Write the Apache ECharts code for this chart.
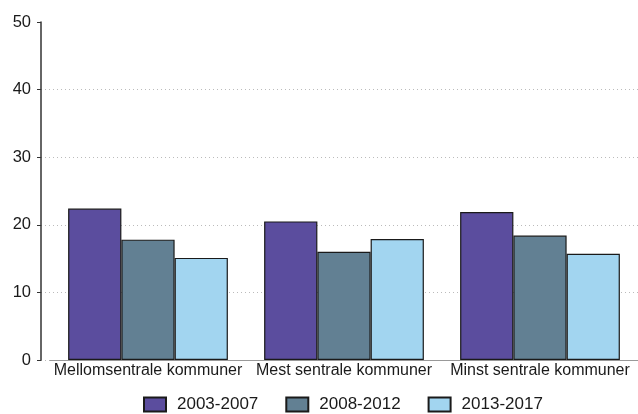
<!DOCTYPE html>
<html>
<head>
<meta charset="utf-8">
<script src="https://cdn.jsdelivr.net/npm/echarts@6/dist/echarts.min.js"></script>
<style>html,body{margin:0;padding:0;background:#fff}#c{width:638px;height:414px}</style>
</head>
<body>
<div id="c"></div>
<script>
var categories = ['Mellomsentrale kommuner', 'Mest sentrale kommuner', 'Minst sentrale kommuner'];
var seriesNames = ['2003-2007', '2008-2012', '2013-2017'];
var s2003 = [22.4, 20.5, 21.9];
var s2008 = [17.8, 16.0, 18.4];
var s2013 = [15.1, 17.9, 15.7];
var yTicks = [0, 10, 20, 30, 40, 50];

var colors = ['#5b4d9e', '#628093', '#a2d5f0'];
var font = "'Liberation Sans', Arial, sans-serif";
var chart = echarts.init(document.getElementById('c'));
var vals = [s2003, s2008, s2013];
var series = seriesNames.map(function (n, i) {
  return {
    name: n, type: 'bar', xAxisIndex: 1, yAxisIndex: 1,
    data: vals[i], barGap: '0%', barCategoryGap: '18.5%',
    itemStyle: { color: colors[i], borderColor: '#1a1a1a', borderWidth: 1.2 },
    emphasis: { disabled: true }
  };
});
chart.setOption({
  animation: false,
  textStyle: { fontFamily: font },
  grid: [
    { left: 41, right: 0, top: 22, bottom: 54 },
    { left: 50, right: 0, top: 22, bottom: 54 }
  ],
  xAxis: [
    { gridIndex: 0, type: 'value', show: false, min: 0, max: 1 },
    { gridIndex: 1, type: 'category', data: categories,
      axisLine: { show: true, lineStyle: { color: '#999', width: 1 } },
      axisTick: { show: false },
      axisLabel: { color: '#1a1a1a', fontSize: 16, margin: 3, fontFamily: font, interval: 0 } }
  ],
  yAxis: [
    { gridIndex: 0, type: 'value', min: yTicks[0], max: yTicks[yTicks.length - 1], interval: 10,
      axisLine: { show: true, lineStyle: { color: '#333', width: 1.5 } },
      axisTick: { show: true, length: 4, lineStyle: { color: '#333' } },
      axisLabel: { color: '#1a1a1a', fontSize: 16.5, margin: 10, fontFamily: font },
      splitLine: { show: true, showMaxLine: false, lineStyle: { type: [1, 3], color: '#bbb', width: 1 } } },
    { gridIndex: 1, type: 'value', min: 0, max: 50, interval: 10, show: false, splitLine: { show: false } }
  ],
  legend: {
    data: seriesNames, top: 396, left: 143, padding: 0, itemWidth: 22, itemHeight: 14, itemGap: 27,
    icon: 'rect',
    textStyle: { fontSize: 17, color: '#1a1a1a', fontFamily: font, padding: [0, 0, 0, 6] }
  },
  series: series
});
</script>
</body>
</html>
